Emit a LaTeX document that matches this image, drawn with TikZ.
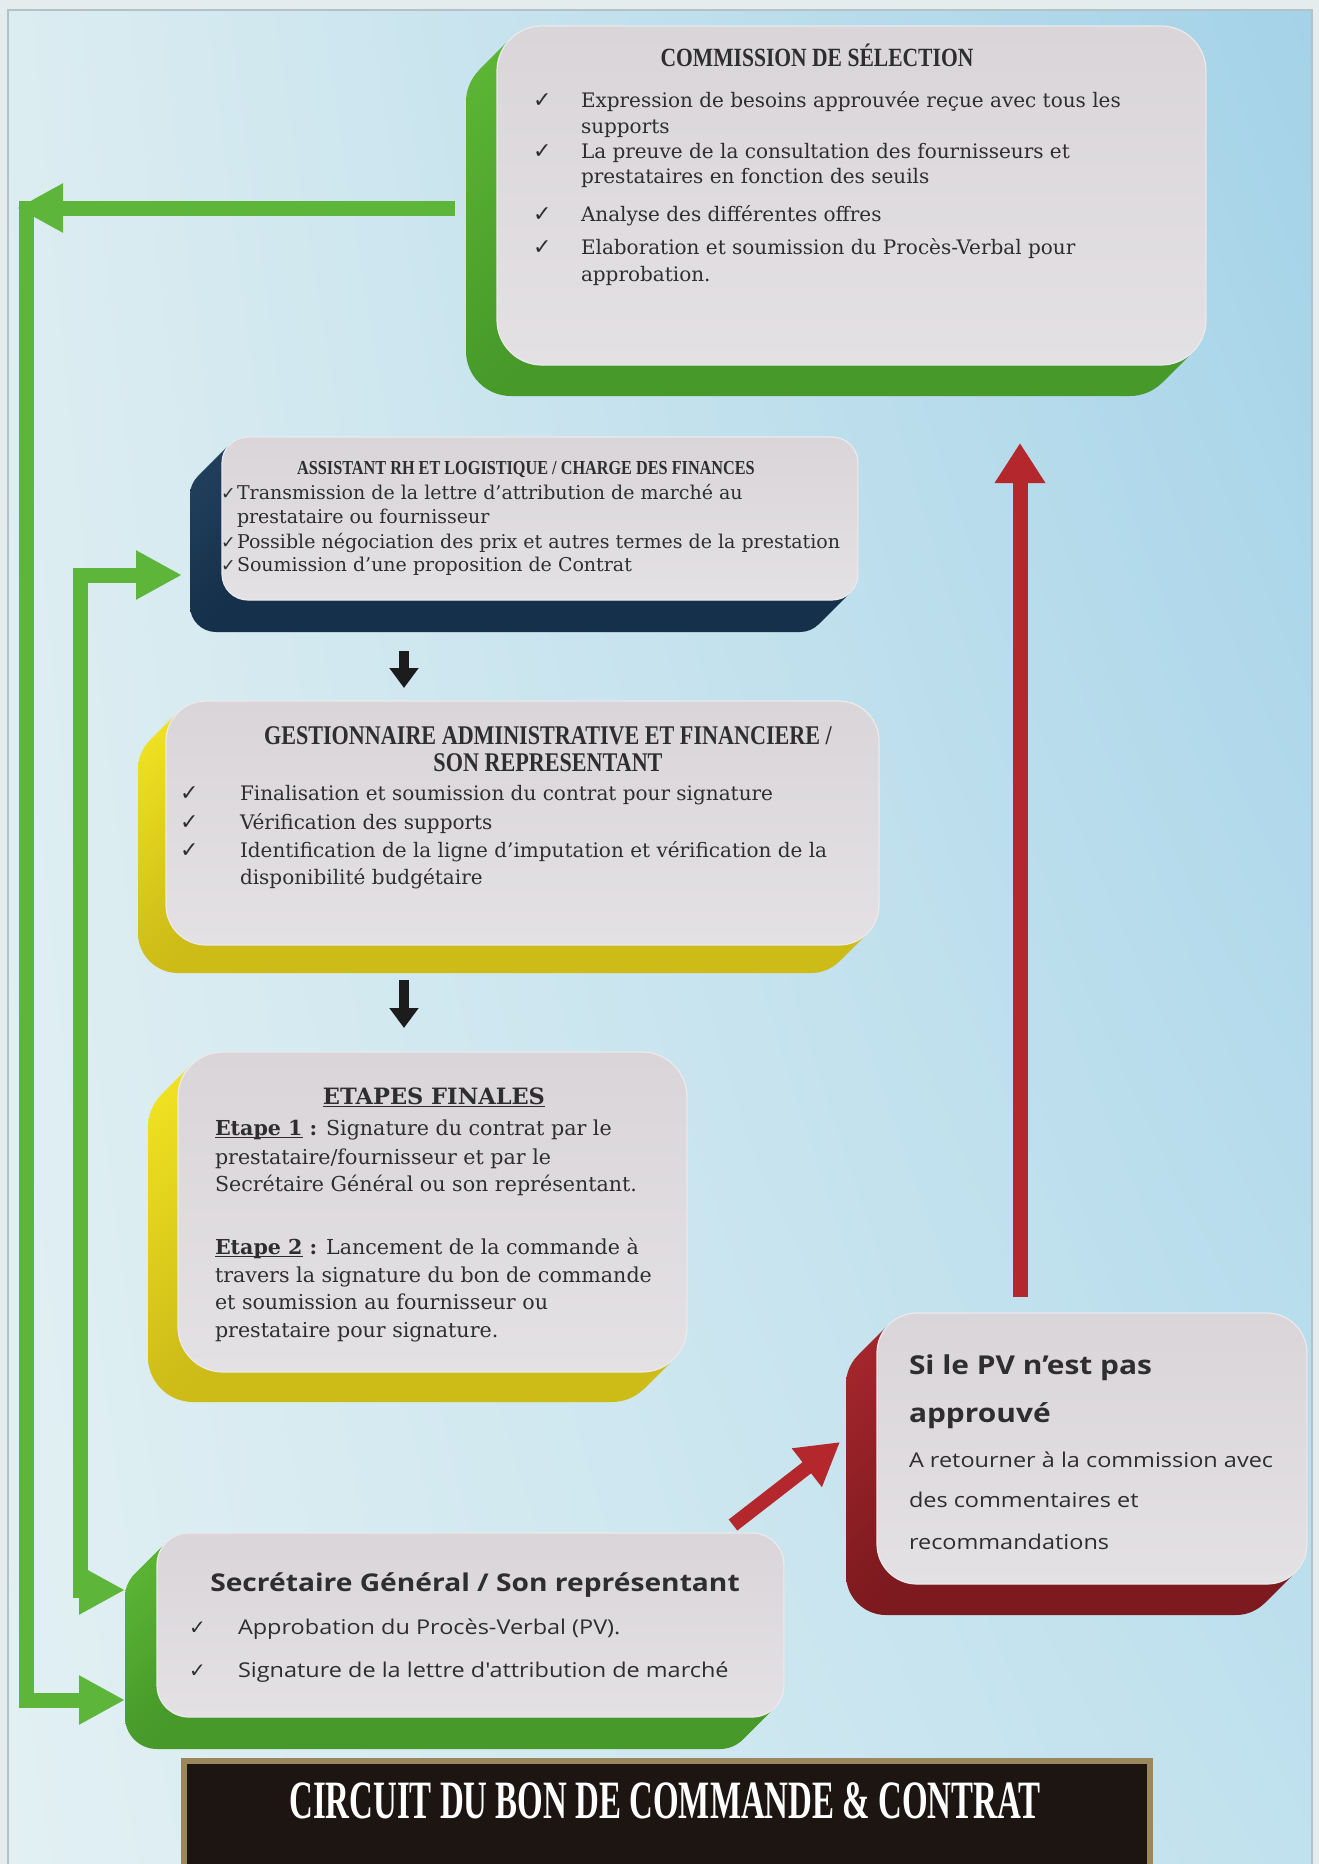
\documentclass[tikz,border=0pt]{standalone}
\usepackage{fontspec}
\usetikzlibrary{arrows.meta,shadings}

\setmainfont{DejaVu Serif}
\newfontfamily\bodyserif{DejaVu Serif}
\newfontfamily\headserif[FakeStretch=0.82]{Liberation Serif}
\newfontfamily\roundsans[FakeStretch=1.15]{Open Sans}
\newfontfamily\posterfont[FakeStretch=0.61]{Liberation Serif}
\newfontfamily\symbolsf{DejaVu Sans}

\definecolor{ink}{HTML}{2E2E30}
\definecolor{facetop}{HTML}{D9D5D9}
\definecolor{facebot}{HTML}{E4E1E4}
\definecolor{facerim}{HTML}{ECEAEC}
\definecolor{slabgreen}{HTML}{5DB735}
\definecolor{slabgreendk}{HTML}{479A2A}
\definecolor{slabnavy}{HTML}{22405E}
\definecolor{slabnavydk}{HTML}{15304A}
\definecolor{slabyellow}{HTML}{F2E422}
\definecolor{slabyellowdk}{HTML}{CDBC18}
\definecolor{slabred}{HTML}{A7272D}
\definecolor{slabreddk}{HTML}{7D1A1F}
\definecolor{arrowgreen}{HTML}{5DB63A}
\definecolor{arrowred}{HTML}{B3272D}
\definecolor{arrowblack}{HTML}{1C1C1C}
\definecolor{bannerfill}{HTML}{1C1511}
\definecolor{bannerrim}{HTML}{9A875C}
\definecolor{framegray}{HTML}{B4C2C7}
\definecolor{pagemargin}{HTML}{E4ECEE}
\definecolor{skyul}{HTML}{DCEDF1}
\definecolor{skyur}{HTML}{A4D2E8}
\definecolor{skyll}{HTML}{E2F0F3}
\definecolor{skylr}{HTML}{C0E1EE}

% an extruded card: name, x1, y1, x2, y2, corner radius, depth, side colour, darker side colour
\newcommand\slab[9]{%
  \foreach \k in {#7,...,0}{%
    \path[rounded corners=#6pt, top color=#8, bottom color=#9]
      ({#2-\k},{#3+\k}) rectangle ({#4-\k},{#5+\k});
  }%
  \node[face, rounded corners=#6pt, minimum width={(#4-#2)*1pt},
        minimum height={(#5-#3)*1pt}] (#1) at ({(#2+#4)/2},{(#3+#5)/2}) {};
}
\newcommand\thickul[1]{\setbox0\hbox{#1}\rlap{\rule[-3.4pt]{\wd0}{1.7pt}}\box0\relax}

\begin{document}
\begin{tikzpicture}[x=1pt,y=-1pt,
  face/.style={inner sep=0pt, outer sep=0pt, top color=facetop, bottom color=facebot,
               draw=facerim, line width=1.2pt},
  txt/.style={inner sep=0pt, outer sep=0pt, text=ink, anchor=base west},
  ttl/.style={inner sep=0pt, outer sep=0pt, text=ink, anchor=base},
  tick/.style={inner sep=0pt, outer sep=0pt, text=ink, anchor=base west},
  gline/.style={draw=arrowgreen, line width=15pt, line join=miter},
  ghead/.style={-{Triangle[length=46pt,width=46pt]}},
  rline/.style={draw=arrowred, line width=15pt},
  rhead/.style={-{Triangle[length=40pt,width=48pt]}},
  bline/.style={draw=arrowblack, line width=10pt, -{Triangle[length=20pt,width=28pt]}},
  comf/.style={font=\bodyserif\fontsize{20}{24}\selectfont},
  comt/.style={font=\headserif\bfseries\fontsize{26.3}{30}\selectfont},
  gstt/.style={font=\headserif\bfseries\fontsize{27}{30}\selectfont},
  astf/.style={font=\bodyserif\fontsize{19}{22}\selectfont},
  astt/.style={font=\headserif\bfseries\fontsize{19.8}{22}\selectfont},
  etpf/.style={font=\bodyserif\fontsize{20.6}{24}\selectfont},
  etpt/.style={font=\bodyserif\bfseries\fontsize{22.5}{26}\selectfont},
  pvt/.style={font=\roundsans\bfseries\fontsize{26}{30}\selectfont},
  pvf/.style={font=\roundsans\fontsize{20.4}{24}\selectfont},
  sgt/.style={font=\roundsans\bfseries\fontsize{24.5}{28}\selectfont},
  sgf/.style={font=\roundsans\fontsize{20.4}{24}\selectfont},
  bigtick/.style={font=\symbolsf\fontsize{22}{22}\selectfont},
  smalltick/.style={font=\symbolsf\fontsize{17.5}{17.5}\selectfont},
  sgtick/.style={font=\symbolsf\fontsize{20}{20}\selectfont},
]
\useasboundingbox (0,0) rectangle (1319,1864);

% page and framed background
\fill[pagemargin] (0,0) rectangle (1319,1864);
\path[upper left=skyul, upper right=skyur, lower left=skyll, lower right=skylr]
  (8,10) rectangle (1312,1864);
\draw[framegray, line width=2pt] (8,10) rectangle (1312,1880);

% ---------- cards ----------
\slab{commission}{497}{26}{1206}{365}{45}{31}{slabgreen}{slabgreendk}
\slab{assistant}{222}{437}{858}{600}{26}{32}{slabnavy}{slabnavydk}
\slab{gestion}{166}{701}{879}{945}{40}{28}{slabyellow}{slabyellowdk}
\slab{etapes}{178}{1052}{687}{1372}{45}{30}{slabyellow}{slabyellowdk}
\slab{pv}{877}{1313}{1307}{1584}{40}{31}{slabred}{slabreddk}
\slab{secretaire}{157}{1533}{784}{1717}{32}{32}{slabgreen}{slabgreendk}

% ---------- connector ports ----------
\coordinate (com-out) at (455,208);
\coordinate (corner-tip) at (17,208);
\coordinate (outer-top) at (26,201);
\coordinate (sec-in-low) at (125,1700);
\coordinate (sec-in-high) at (125,1590);
\coordinate (inner-x) at (80,1590);
\coordinate (ast-in) at (182,575);
\coordinate (pv-top) at (1020,1297);
\coordinate (com-in) at (1020,443);
\coordinate (sec-out) at (733,1525);
\coordinate (pv-in) at (840,1442);
\coordinate (ast-out) at (404,651);
\coordinate (gest-in) at (404,688);
\coordinate (gest-out) at (404,980);
\coordinate (etp-in) at (404,1028);

% green loop: selection committee back to the secretary general
\draw[gline, ghead] (com-out) -- (corner-tip);
\draw[gline, ghead] (outer-top) |- (sec-in-low);
% green loop: secretary general on to the HR / finance assistant
\draw[gline, {Triangle[length=46pt,width=46pt]}-{Triangle[length=46pt,width=46pt]}]
  (sec-in-high) -| (inner-x |- ast-in) -- (ast-in);

% red return path when the minutes are refused
\draw[rline, -{Triangle[length=42pt,width=46pt]}, line width=14pt] (sec-out) -- (pv-in);
\draw[rline, rhead] (pv-top) -- (com-in);

% black steps down the chain
\draw[bline] (ast-out) -- (gest-in);
\draw[bline] (gest-out) -- (etp-in);

% ---------- COMMISSION DE SÉLECTION ----------
\node[ttl, comt] (com-title) at (817,66) {COMMISSION DE SÉLECTION};
\node[tick, bigtick] (com-k1) at (533,107) {✓};
\node[tick, bigtick] (com-k2) at (533,158) {✓};
\node[tick, bigtick] (com-k3) at (533,221) {✓};
\node[tick, bigtick] (com-k4) at (533,254) {✓};
\node[txt, comf] (com-l1) at (581,107) {Expression de besoins approuvée reçue avec tous les};
\node[txt, comf] (com-l2) at (581,133) {supports};
\node[txt, comf] (com-l3) at (581,158) {La preuve de la consultation des fournisseurs et};
\node[txt, comf] (com-l4) at (581,183) {prestataires en fonction des seuils};
\node[txt, comf] (com-l5) at (581,221) {Analyse des différentes offres};
\node[txt, comf] (com-l6) at (581,254) {Elaboration et soumission du Procès-Verbal pour};
\node[txt, comf] (com-l7) at (581,281) {approbation.};

% ---------- ASSISTANT RH ----------
\node[ttl, astt] (ast-title) at (526,474) {ASSISTANT RH ET LOGISTIQUE / CHARGE DES FINANCES};
\node[tick, smalltick] (ast-k1) at (221,499) {✓};
\node[tick, smalltick] (ast-k2) at (221,548) {✓};
\node[tick, smalltick] (ast-k3) at (221,571) {✓};
\node[txt, astf] (ast-l1) at (237,499) {Transmission de la lettre d’attribution de marché au};
\node[txt, astf] (ast-l2) at (237,523) {prestataire ou fournisseur};
\node[txt, astf] (ast-l3) at (237,548) {Possible négociation des prix et autres termes de la prestation};
\node[txt, astf] (ast-l4) at (237,571) {Soumission d’une proposition de Contrat};

% ---------- GESTIONNAIRE ----------
\node[ttl, gstt] (gst-title1) at (548,744) {GESTIONNAIRE ADMINISTRATIVE ET FINANCIERE /};
\node[ttl, gstt] (gst-title2) at (548,771) {SON REPRESENTANT};
\node[tick, bigtick] (gst-k1) at (180,800) {✓};
\node[tick, bigtick] (gst-k2) at (180,829) {✓};
\node[tick, bigtick] (gst-k3) at (180,857) {✓};
\node[txt, comf] (gst-l1) at (240,800) {Finalisation et soumission du contrat pour signature};
\node[txt, comf] (gst-l2) at (240,829) {Vérification des supports};
\node[txt, comf] (gst-l3) at (240,857) {Identification de la ligne d’imputation et vérification de la};
\node[txt, comf] (gst-l4) at (240,884) {disponibilité budgétaire};

% ---------- ETAPES FINALES ----------
\node[ttl, etpt] (etp-title) at (434,1104) {\thickul{ETAPES FINALES}};
\node[txt, etpf] (etp-l1) at (215,1135) {\textbf{\thickul{Etape 1} :} Signature du contrat par le};
\node[txt, etpf] (etp-l2) at (215,1164) {prestataire/fournisseur et par le};
\node[txt, etpf] (etp-l3) at (215,1191) {Secrétaire Général ou son représentant.};
\node[txt, etpf] (etp-l4) at (215,1254) {\textbf{\thickul{Etape 2} :} Lancement de la commande à};
\node[txt, etpf] (etp-l5) at (215,1282) {travers la signature du bon de commande};
\node[txt, etpf] (etp-l6) at (215,1309) {et soumission au fournisseur ou};
\node[txt, etpf] (etp-l7) at (215,1337) {prestataire pour signature.};

% ---------- SI LE PV N'EST PAS APPROUVÉ ----------
\node[txt, pvt] (pv-title1) at (909,1374) {Si le PV n’est pas};
\node[txt, pvt] (pv-title2) at (909,1422) {approuvé};
\node[txt, pvf] (pv-l1) at (909,1467) {A retourner à la commission avec};
\node[txt, pvf] (pv-l2) at (909,1507) {des commentaires et};
\node[txt, pvf] (pv-l3) at (909,1549) {recommandations};

% ---------- SECRÉTAIRE GÉNÉRAL ----------
\node[ttl, sgt] (sg-title) at (475,1591) {Secrétaire Général / Son représentant};
\node[tick, sgtick] (sg-k1) at (189,1634) {✓};
\node[tick, sgtick] (sg-k2) at (189,1677) {✓};
\node[txt, sgf] (sg-l1) at (238,1634) {Approbation du Procès-Verbal (PV).};
\node[txt, sgf] (sg-l2) at (238,1677) {Signature de la lettre d'attribution de marché};

% ---------- banner ----------
\node[inner sep=0pt, outer sep=0pt, fill=bannerfill, draw=bannerrim, line width=6pt,
      minimum width=966pt, minimum height=120pt, anchor=north west] (banner) at (184,1761) {};
\node[inner sep=0pt, text=white, anchor=base,
      font=\posterfont\bfseries\fontsize{54}{54}\selectfont] (banner-text) at (665,1818)
  {CIRCUIT DU BON DE COMMANDE \& CONTRAT};
\end{tikzpicture}
\end{document}
